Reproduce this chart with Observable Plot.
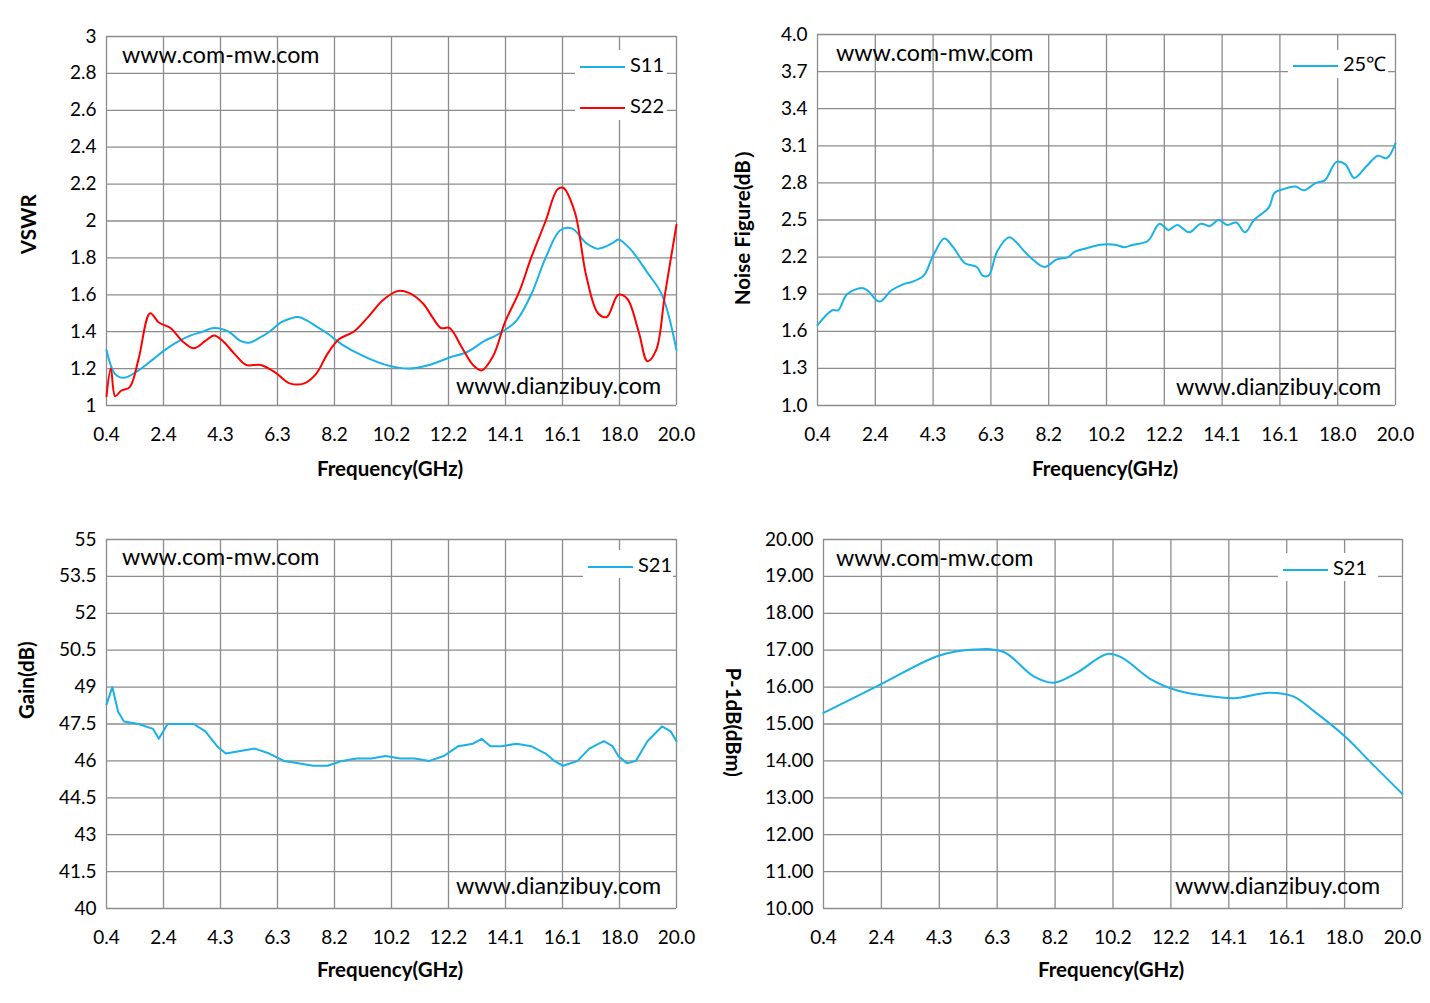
<!DOCTYPE html>
<html><head><meta charset="utf-8">
<script src="https://cdn.jsdelivr.net/npm/d3@7"></script>
<script src="https://cdn.jsdelivr.net/npm/@observablehq/plot@0.6"></script>
<style>
body{margin:0;background:#fff;font-family:Lato,"Open Sans",sans-serif;}
#root{position:relative;width:1430px;height:1003px;overflow:hidden;}
.p{position:absolute;}
.t{position:absolute;font-size:23.3px;color:#000;white-space:nowrap;line-height:1;}
.ax{position:absolute;font-size:20.5px;font-weight:bold;white-space:nowrap;line-height:1;}
.lg{position:absolute;background:#fff;}
.lg .row{position:absolute;font-size:20px;white-space:nowrap;line-height:1;}
.lg .ln{display:inline-block;width:45px;height:2px;vertical-align:middle;margin-right:5px;}
</style></head><body><div id="root"></div>
<script>
const xTicks = [0.4,2.36,4.32,6.28,8.24,10.2,12.16,14.12,16.08,18.04,20.0];
const freqS11 = [0.4,0.7,1.0,1.5,2.0,2.4,2.9,3.3,3.7,4.1,4.6,5.0,5.3,5.7,6.0,6.4,6.7,7.0,7.3,7.6,8.0,8.5,9.2,10.0,10.8,11.5,12.2,12.8,13.4,13.8,14.2,14.5,15.0,15.5,16.0,16.4,16.9,17.3,17.8,18.0,18.4,19.0,19.5,20.0];
const vswrS11 = [1.3,1.17,1.15,1.19,1.25,1.3,1.35,1.38,1.4,1.42,1.4,1.35,1.34,1.37,1.4,1.45,1.47,1.48,1.46,1.43,1.39,1.33,1.27,1.22,1.2,1.22,1.26,1.29,1.35,1.38,1.42,1.46,1.6,1.8,1.95,1.96,1.88,1.85,1.88,1.9,1.85,1.72,1.6,1.3];
const freqS22 = [0.4,0.55,0.7,0.9,1.2,1.5,1.9,2.2,2.6,3.0,3.4,3.8,4.1,4.4,4.8,5.2,5.7,6.2,6.7,7.2,7.6,8.0,8.4,8.9,9.4,9.9,10.4,10.8,11.3,11.6,11.9,12.2,12.6,13.0,13.3,13.7,14.1,14.6,15.0,15.5,15.9,16.1,16.5,16.9,17.3,17.6,18.0,18.3,18.7,19.0,19.3,19.6,20.0];
const vswrS22 = [1.05,1.2,1.05,1.08,1.1,1.25,1.5,1.45,1.42,1.35,1.31,1.35,1.38,1.35,1.28,1.22,1.22,1.18,1.12,1.12,1.17,1.28,1.36,1.4,1.48,1.57,1.62,1.61,1.55,1.48,1.42,1.42,1.32,1.22,1.19,1.27,1.45,1.62,1.8,2.0,2.17,2.18,2.05,1.7,1.5,1.48,1.6,1.58,1.4,1.24,1.3,1.6,1.98];
const freqNF = [0.4,0.9,1.1,1.4,1.9,2.1,2.5,2.9,3.3,3.6,4.0,4.3,4.7,5.0,5.4,5.8,6.0,6.2,6.5,6.9,7.1,7.4,7.7,8.1,8.5,8.9,9.1,9.5,10.0,10.5,10.8,11.1,11.6,12.0,12.3,12.6,13.0,13.4,13.7,14.0,14.3,14.6,14.9,15.2,15.7,15.9,16.2,16.6,16.9,17.3,17.6,18.0,18.3,18.6,19.0,19.4,19.7,20.0];
const nf = [1.65,1.77,1.77,1.9,1.95,1.93,1.84,1.93,1.98,2.0,2.05,2.2,2.35,2.28,2.15,2.12,2.05,2.05,2.25,2.36,2.33,2.25,2.18,2.12,2.18,2.2,2.24,2.27,2.3,2.3,2.28,2.3,2.33,2.47,2.42,2.46,2.4,2.47,2.45,2.5,2.46,2.48,2.4,2.5,2.6,2.72,2.75,2.77,2.74,2.8,2.82,2.97,2.95,2.84,2.93,3.02,3.0,3.12];
const freqG = [0.4,0.6,0.8,1.0,1.5,2.0,2.2,2.5,3.0,3.4,3.8,4.2,4.5,5.0,5.5,6.0,6.5,7.0,7.5,8.0,8.5,9.0,9.5,10.0,10.5,11.0,11.5,12.0,12.5,13.0,13.3,13.6,14.0,14.5,15.0,15.5,15.8,16.1,16.6,17.0,17.5,17.8,18.0,18.3,18.6,19.0,19.5,19.8,20.0];
const gain = [48.3,49.0,48.0,47.6,47.5,47.3,46.9,47.5,47.5,47.5,47.2,46.6,46.3,46.4,46.5,46.3,46.0,45.9,45.8,45.8,46.0,46.1,46.1,46.2,46.1,46.1,46.0,46.2,46.6,46.7,46.9,46.6,46.6,46.7,46.6,46.3,46.0,45.8,46.0,46.5,46.8,46.6,46.2,45.9,46.0,46.8,47.4,47.2,46.8];
const freqP = [0.4,2.4,4.3,5.5,6.5,7.5,8.2,9.0,10.0,10.5,11.5,12.4,13.5,14.3,15.5,16.3,17.0,18.0,19.0,20.0];
const p1db = [15.3,16.1,16.85,17.02,16.95,16.3,16.12,16.4,16.9,16.8,16.2,15.9,15.75,15.7,15.85,15.75,15.35,14.7,13.9,13.1];

const BLUE="#1AB0E8", RED="#FF0000", GRID="#8c8c8c";
const root=document.getElementById("root");
function panel({left,top,mL,mR,mT,yDom,yTicks,yFmt,series,curve}){
  const W=715,H=450;
  const rows=[];
  series.forEach(s=>s.x.forEach((x,i)=>rows.push({x,y:s.y[i],k:s.k})));
  const marks=[
    Plot.ruleX(xTicks,{stroke:GRID,strokeWidth:1.3}),
    Plot.ruleY(yTicks,{stroke:GRID,strokeWidth:1.3}),
    ...series.map(s=>Plot.line(rows.filter(r=>r.k===s.k),{x:"x",y:"y",stroke:s.c,strokeWidth:2,curve:curve||"catmull-rom"})),
    Plot.axisX({ticks:xTicks,tickSize:0,tickPadding:22,tickFormat:d=>d.toFixed(1),fontSize:19,label:null}),
    Plot.axisY({ticks:yTicks,tickSize:0,tickPadding:10,tickFormat:yFmt,fontSize:19,label:null})
  ];
  const svg=Plot.plot({width:W,height:H,marginLeft:mL,marginRight:mR,marginTop:mT,marginBottom:45,
    style:{fontFamily:"Lato, 'Open Sans', sans-serif",color:"#000",background:"transparent"},
    x:{domain:[0.4,20]},y:{domain:yDom},marks});
  const d=document.createElement("div");d.className="p";d.style.left=left+"px";d.style.top=top+"px";
  d.appendChild(svg);root.appendChild(d);
}
const r=(a,b,s)=>d3.range(0,Math.round((b-a)/s)+1).map(i=>+(a+i*s).toFixed(4));
panel({left:0,top:0,mL:106,mR:39,mT:36,yDom:[1,3],yTicks:r(1,3,0.2),yFmt:d=>d3.format("~g")(d),
  series:[{k:"S11",x:freqS11,y:vswrS11,c:BLUE},{k:"S22",x:freqS22,y:vswrS22,c:RED}]});
panel({left:715,top:0,mL:102,mR:35,mT:34,yDom:[1,4],yTicks:r(1,4,0.3),yFmt:d=>d.toFixed(1),
  series:[{k:"NF",x:freqNF,y:nf,c:BLUE}]});
panel({left:0,top:503,mL:106,mR:39,mT:36,yDom:[40,55],yTicks:r(40,55,1.5),yFmt:d=>d3.format("~g")(d),
  series:[{k:"G",x:freqG,y:gain,c:BLUE}],curve:"linear"});
panel({left:715,top:503,mL:108,mR:28,mT:36,yDom:[10,20],yTicks:r(10,20,1),yFmt:d=>d.toFixed(2),
  series:[{k:"P",x:freqP,y:p1db,c:BLUE}]});

function txt(cls,s,x,y,extra){const e=document.createElement("div");e.className=cls;e.textContent=s;e.style.left=x+"px";e.style.top=y+"px";if(extra)Object.assign(e.style,extra);root.appendChild(e);return e;}
[[122,43],[836,41],[122,545],[836,546]].forEach(([x,y])=>txt("t","www.com-mw.com",x,y));
[[456,374],[1176,375],[456,874],[1175,874]].forEach(([x,y])=>txt("t","www.dianzibuy.com",x,y));
[[317,458],[1032,458],[317,959],[1038,959]].forEach(([x,y])=>txt("ax","Frequency(GHz)",x,y));
function vlab(s,cx,cy,rot){const e=txt("ax",s,0,0);const w=e.offsetWidth,h=e.offsetHeight;e.style.left=(cx-w/2)+"px";e.style.top=(cy-h/2)+"px";e.style.transform=`rotate(${rot}deg)`;}
vlab("VSWR",28,224,-90);vlab("Noise Figure(dB）",742,222,-90);vlab("Gain(dB)",26,680,-90);vlab("P-1dB(dBm)",733,722,90);
function legend(x,y,w,h,items){const d=document.createElement("div");d.className="lg";Object.assign(d.style,{left:x+"px",top:y+"px",width:w+"px",height:h+"px"});
  items.forEach(([lab,c,dy])=>{const r=document.createElement("div");r.className="row";r.style.left="5px";r.style.top=dy+"px";r.innerHTML=`<span class="ln" style="background:${c}"></span>${lab}`;d.appendChild(r);});root.appendChild(d);}
legend(575,50,92,70,[["S11",BLUE,4],["S22",RED,45]]);
legend(1288,50,100,28,[["25℃",BLUE,3]]);
legend(583,550,90,28,[["S21",BLUE,4]]);
legend(1278,553,100,28,[["S21",BLUE,4]]);
</script></body></html>
